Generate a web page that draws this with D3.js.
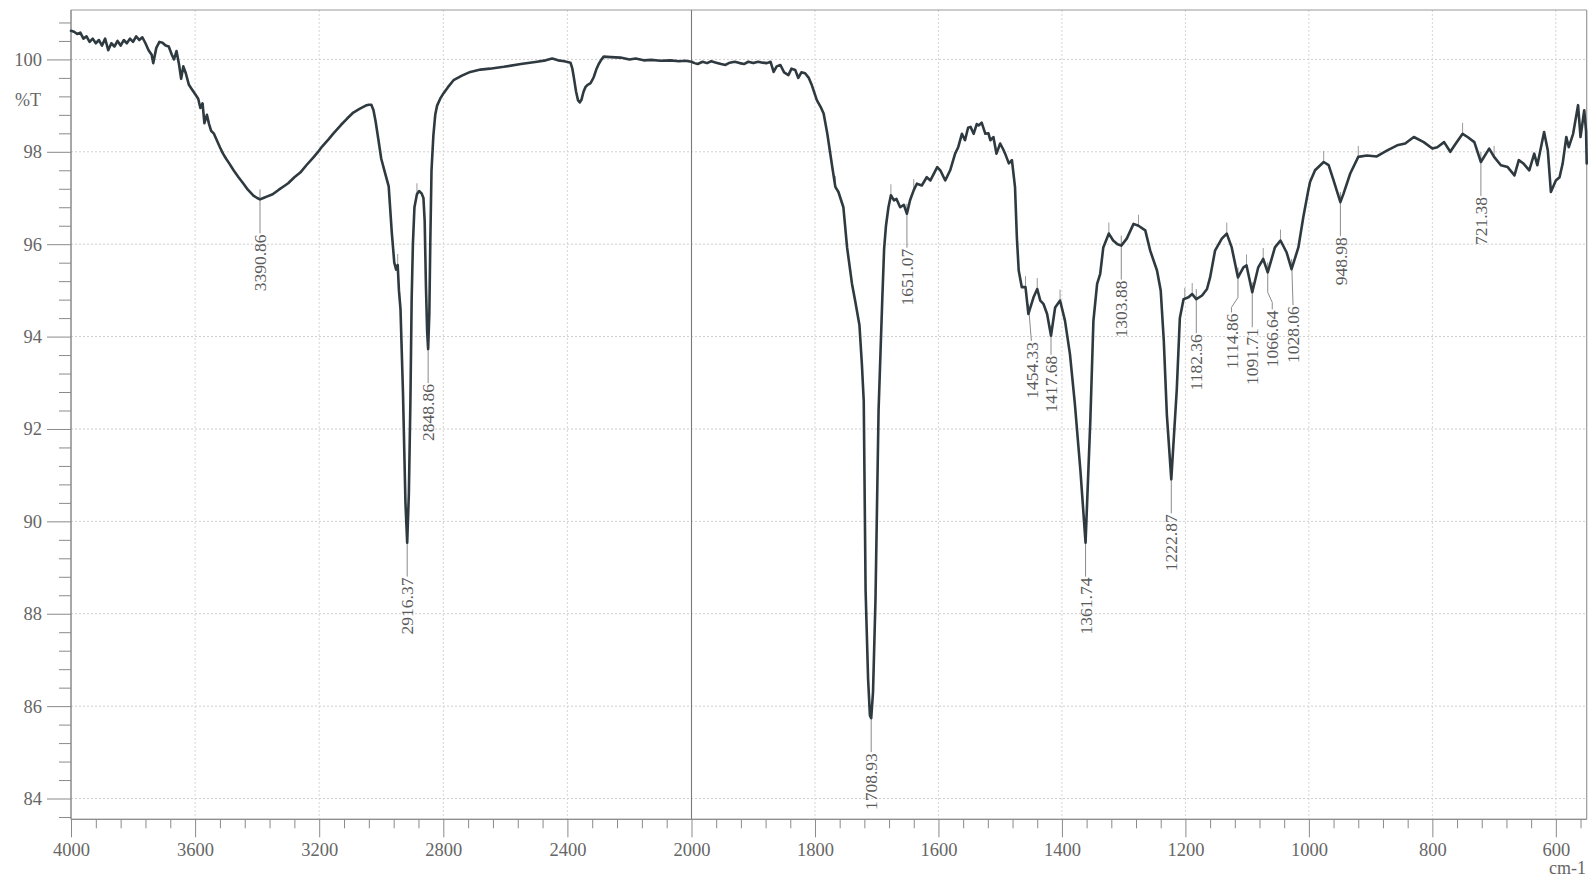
<!DOCTYPE html>
<html>
<head>
<meta charset="utf-8">
<script src="https://cdn.jsdelivr.net/npm/d3@7"></script>
<style>
  html, body { margin: 0; padding: 0; background: #ffffff; }
  svg { display: block; }
</style>
</head>
<body>
<svg id="chart" width="1592" height="878"></svg>
<script>
// ---------------- DATA ----------------
const wavenumber = [
  4000,3990,3980,3970,3960,3950,3940,3930,3920,3910,3900,3890,3880,3870,3860,3850,3840,3830,3820,3810,
  3800,3790,3780,3770,3760,3750,3740,3735,3725,3715,3705,3695,3685,3675,3668,3660,3652,3645,3638,3630,
  3620,3610,3600,3590,3583,3576,3570,3562,3555,3548,3540,3530,3520,3510,3500,3490,3476,3460,3444,3430,
  3412,3400,3390.86,3380,3369,3350,3330,3315,3300,3280,3261,3240,3220,3207,3190,3170,3154,3130,3110,3090,
  3070,3050,3040,3032,3025,3018,3010,3000,2990,2976,2966,2958,2952,2947,2943,2938,2930,2922,2916.37,2911,
  2906,2902,2898,2893,2885,2878,2870,2864,2860,2856,2852,2848.86,2845,2842,2838,2832,2826,2820,2810,2799,
  2785,2767,2740,2713,2680,2650,2605,2550,2498,2470,2449,2430,2410,2390,2384,2379,2372,2366,2360,2355,
  2348,2342,2335,2326,2320,2315,2307,2299,2290,2283,2260,2229,2200,2180,2154,2130,2100,2068,2040,2020,
  2000,1995,1990,1982,1975,1968,1960,1952,1945,1938,1930,1922,1915,1908,1900,1892,1885,1878,1872,1867,
  1862,1856,1850,1843,1838,1832,1827,1822,1816,1810,1805,1797,1790,1786,1780,1772,1767,1762,1754,1748,
  1740,1735,1728,1724,1721,1718,1714,1711,1708.93,1706,1702,1697,1694,1691,1688,1685,1681,1677,1672,1668,
  1662,1656,1651.07,1646,1640,1635,1627,1619,1613,1602,1597,1589,1581,1573,1568,1562,1557,1552,1548,1543,
  1538,1535,1530,1524,1519,1516,1511,1506,1500,1495,1492,1486,1481,1476,1473,1470,1465,1459,1454.33,1446,
  1440,1435,1430,1424,1417.68,1411,1403,1395,1387,1379,1370,1361.74,1354,1349,1343,1338,1333,1324,1317,1310,
  1303.88,1295,1284,1276,1265,1257,1246,1240,1235,1230,1222.87,1214,1209,1203,1195,1189,1182.36,1173,1165,1160,
  1152,1141,1133,1125,1114.86,1106,1101,1091.71,1082,1074,1066.64,1055,1046,1036,1028.06,1017,1009,1001,998,990,
  976,968,960,948.98,944,933,920,906,890,873,857,844,830,814,800,792,781,771,762,751,
  743,732,721.38,708,700,689,678,667,660,652,643,635,630,619,613,608,600,594,589,583,
  579,572,564,560,554,551,550
];
const transmittance = [
  100.62,100.60,100.55,100.58,100.45,100.50,100.38,100.45,100.35,100.42,100.30,100.45,100.20,100.35,100.28,100.40,100.30,100.42,100.35,100.45,
  100.38,100.50,100.42,100.48,100.35,100.20,100.10,99.92,100.25,100.38,100.36,100.30,100.28,100.10,100.00,100.18,99.90,99.58,99.85,99.70,
  99.45,99.35,99.25,99.15,98.95,99.05,98.62,98.80,98.60,98.45,98.40,98.25,98.10,97.96,97.85,97.75,97.60,97.45,97.31,97.18,
  97.05,97.00,96.97,97.00,97.03,97.08,97.18,97.25,97.32,97.45,97.55,97.72,97.87,97.97,98.12,98.27,98.40,98.58,98.72,98.85,
  98.93,99.00,99.02,99.02,98.90,98.65,98.30,97.85,97.60,97.25,96.25,95.60,95.45,95.55,95.00,94.60,92.80,90.40,89.54,90.60,
  92.60,94.80,96.00,96.80,97.08,97.15,97.10,97.00,96.50,95.10,94.10,93.73,94.50,96.00,97.60,98.35,98.80,99.00,99.15,99.27,
  99.40,99.55,99.65,99.73,99.78,99.80,99.84,99.90,99.95,99.98,100.02,99.98,99.96,99.93,99.80,99.60,99.30,99.12,99.07,99.12,
  99.30,99.40,99.45,99.48,99.55,99.62,99.78,99.90,100.00,100.06,100.05,100.04,100.00,100.02,99.98,99.99,99.97,99.98,99.96,99.97,
  99.95,99.92,99.90,99.95,99.92,99.96,99.93,99.90,99.88,99.93,99.95,99.92,99.90,99.95,99.92,99.95,99.93,99.92,99.95,99.73,
  99.85,99.88,99.72,99.66,99.80,99.77,99.60,99.72,99.70,99.60,99.44,99.12,98.95,98.83,98.39,97.67,97.24,97.13,96.80,95.93,
  95.14,94.78,94.25,93.40,92.60,88.50,86.60,85.80,85.74,86.30,88.30,92.40,93.60,94.80,95.90,96.40,96.80,97.06,96.95,96.98,
  96.80,96.85,96.66,96.95,97.17,97.31,97.27,97.45,97.38,97.67,97.60,97.38,97.60,97.96,98.10,98.39,98.25,98.52,98.54,98.39,
  98.60,98.57,98.63,98.39,98.40,98.25,98.32,97.96,98.18,98.05,97.96,97.75,97.82,97.24,96.15,95.43,95.07,95.07,94.49,94.85,
  95.03,94.78,94.71,94.49,94.02,94.63,94.78,94.34,93.62,92.54,91.09,89.54,92.18,94.34,95.14,95.36,95.93,96.23,96.08,96.00,
  95.97,96.12,96.44,96.40,96.30,95.86,95.43,95.00,93.91,92.30,90.91,92.85,94.40,94.81,94.85,94.92,94.81,94.89,95.03,95.28,
  95.86,96.12,96.23,95.93,95.28,95.50,95.54,94.96,95.50,95.68,95.39,95.93,96.08,95.82,95.46,95.93,96.59,97.16,97.35,97.60,
  97.78,97.71,97.38,96.91,97.09,97.53,97.89,97.92,97.90,98.03,98.14,98.18,98.32,98.21,98.07,98.10,98.21,98.00,98.18,98.39,
  98.32,98.21,97.78,98.07,97.89,97.71,97.67,97.49,97.82,97.74,97.60,97.96,97.71,98.43,98.03,97.13,97.38,97.45,97.74,98.32,
  98.10,98.39,99.01,98.32,98.90,98.45,97.75
];

// labelled peaks
const peakWavenumbers = [3390.86,2916.37,2848.86,1708.93,1651.07,1454.33,1417.68,1361.74,1303.88,1222.87,
                         1182.36,1114.86,1091.71,1066.64,1028.06,948.98,721.38];
const peakTransmittance = [96.97,89.54,93.73,85.74,96.66,94.49,94.02,89.54,95.97,90.91,
                           94.81,95.28,94.96,95.39,95.46,96.91,97.78];

// small peak-pick marks at local maxima
const maximaMarks = [2947,2885,1767,1677,1640,1459,1440,1403,1324,1276,1201,1189,1133,1101,1074,1046,976,920,751,700];

// axis tick labels
const xTickLabels = [4000,3600,3200,2800,2400,2000,1800,1600,1400,1200,1000,800,600];
const yTickLabels = [84,86,88,90,92,94,96,98,100];

// ---------------- DRAW ----------------
const svg = d3.select("#chart");
const plotL = 71, plotR = 1586.7, plotT = 10, plotB = 819.3;

const x = d3.scaleLinear().domain([4000, 2000, 550]).range([plotL, 691.5, plotR]);
const y = d3.scaleLinear().domain([83.55, 101.07]).range([plotB, plotT]);

const serif = "'Liberation Serif', 'DejaVu Serif', serif";
const textCol = "#666";
const axisCol = "#8a8a8a";

// grid
const grid = svg.append("g");
grid.selectAll("line.gy").data(yTickLabels).join("line")
  .attr("x1", plotL).attr("x2", plotR)
  .attr("y1", d => y(d)).attr("y2", d => y(d))
  .attr("stroke", "#cfcfcf").attr("stroke-width", 1).attr("stroke-dasharray", "2,2");
grid.selectAll("line.gx").data(xTickLabels.filter(d => d !== 4000 && d !== 2000)).join("line")
  .attr("x1", d => x(d)).attr("x2", d => x(d))
  .attr("y1", plotT).attr("y2", plotB)
  .attr("stroke", "#d6d6d6").attr("stroke-width", 1).attr("stroke-dasharray", "2,2");

// frame
svg.append("line").attr("x1", plotL).attr("x2", plotR).attr("y1", plotT).attr("y2", plotT)
  .attr("stroke", "#9a9a9a").attr("stroke-width", 1.2);
svg.append("line").attr("x1", plotR).attr("x2", plotR).attr("y1", plotT).attr("y2", plotB)
  .attr("stroke", "#9a9a9a").attr("stroke-width", 1.2);
// 2000 break line
svg.append("line").attr("x1", x(2000)).attr("x2", x(2000)).attr("y1", plotT).attr("y2", plotB)
  .attr("stroke", "#7a7a7a").attr("stroke-width", 1.1);

// y axis
const yMinor = d3.range(83.6, 101.0, 0.4).filter(v => Math.abs(v / 2 - Math.round(v / 2)) > 0.01);
const yAxisMajor = d3.axisLeft(y).tickValues(yTickLabels).tickSize(24).tickPadding(5)
  .tickFormat(d3.format("d"));
const yAxisMinor = d3.axisLeft(y).tickValues(yMinor).tickSize(12).tickFormat("");
const gyMinor = svg.append("g").attr("transform", `translate(${plotL},0)`).call(yAxisMinor);
const gy = svg.append("g").attr("transform", `translate(${plotL},0)`).call(yAxisMajor);
[gy, gyMinor].forEach(g => {
  g.select(".domain").attr("d", `M0,${plotT}V${plotB}`).attr("stroke", axisCol);
  g.selectAll(".tick line").attr("stroke", axisCol);
});
gy.selectAll(".tick text").attr("font-family", serif).attr("font-size", 18.5).attr("fill", textCol);

// x axis
const xMinor = d3.range(4000, 2000, -80).concat(d3.range(2000, 540, -40))
  .filter(v => !xTickLabels.includes(v));
const xAxisMajor = d3.axisBottom(x).tickValues(xTickLabels).tickSize(18).tickPadding(6)
  .tickFormat(d3.format("d"));
const xAxisMinor = d3.axisBottom(x).tickValues(xMinor).tickSize(9).tickFormat("");
const gxMinor = svg.append("g").attr("transform", `translate(0,${plotB})`).call(xAxisMinor);
const gx = svg.append("g").attr("transform", `translate(0,${plotB})`).call(xAxisMajor);
[gx, gxMinor].forEach(g => {
  g.select(".domain").attr("d", `M${plotL},0H${plotR}`).attr("stroke", axisCol);
  g.selectAll(".tick line").attr("stroke", axisCol);
});
gx.selectAll(".tick text").attr("font-family", serif).attr("font-size", 18.5).attr("fill", textCol);

// axis titles
svg.append("text").attr("x", 41).attr("y", 100).attr("dy", "0.35em").attr("text-anchor", "end")
  .attr("font-family", serif).attr("font-size", 18).attr("fill", textCol).text("%T");
svg.append("text").attr("x", 1586).attr("y", 874).attr("text-anchor", "end")
  .attr("font-family", serif).attr("font-size", 18).attr("fill", textCol).text("cm-1");

// interpolate curve value at a wavenumber
function tAt(w) {
  const negW = wavenumber.map(d => -d);
  const i = d3.bisectLeft(negW, -w);
  if (i <= 0) return transmittance[0];
  if (i >= wavenumber.length) return transmittance[transmittance.length - 1];
  const w0 = wavenumber[i - 1], w1 = wavenumber[i];
  const t = (w - w0) / (w1 - w0);
  return transmittance[i - 1] + t * (transmittance[i] - transmittance[i - 1]);
}

// maxima marks
svg.append("g").selectAll("line").data(maximaMarks).join("line")
  .attr("x1", d => x(d)).attr("x2", d => x(d))
  .attr("y1", d => y(tAt(d)) - 11).attr("y2", d => y(tAt(d)))
  .attr("stroke", "#9a9a9a").attr("stroke-width", 1);

// peak labels
const labelAdjust = {
  "1454.33": {off: 28, dx: 3},
  "1417.68": {off: 20, dx: 0},
  "1114.86": {off: 36, dx: -6.5, bend: true},
  "1066.64": {off: 38, dx: 4.5, bend: true},
  "1091.71": {off: 36, dx: 0},
  "1028.06": {off: 37, dx: 1.5}
};
const peaks = peakWavenumbers.map((w, i) => ({w, t: peakTransmittance[i], label: w.toFixed(2)}));
const gl = svg.append("g");
peaks.forEach(p => {
  const adj = labelAdjust[p.label] || {off: 35, dx: 0};
  const px = x(p.w), py = y(p.t);
  const topY = py + adj.off;
  const tx = px + adj.dx;
  let pts;
  if (adj.bend) {
    pts = [[px, py - 10], [px, py + 20], [tx, py + 30], [tx, topY - 1]];
  } else {
    pts = [[px, py - 10], [tx, topY - 1]];
  }
  gl.append("path").attr("d", d3.line()(pts)).attr("fill", "none")
    .attr("stroke", "#8a8a8a").attr("stroke-width", 1);
  gl.append("text")
    .attr("transform", `translate(${tx},${topY}) rotate(-90)`)
    .attr("text-anchor", "end").attr("dy", "0.35em")
    .attr("font-family", serif).attr("font-size", 17.5).attr("fill", "#5a5a5a")
    .text(p.label);
});

// spectrum
const data = wavenumber.map((w, i) => [w, transmittance[i]]);
svg.append("path").datum(data)
  .attr("d", d3.line().x(d => x(d[0])).y(d => y(d[1])))
  .attr("fill", "none").attr("stroke", "#2e3a3f").attr("stroke-width", 2.6)
  .attr("stroke-linejoin", "round").attr("stroke-linecap", "round");
</script>
</body>
</html>
